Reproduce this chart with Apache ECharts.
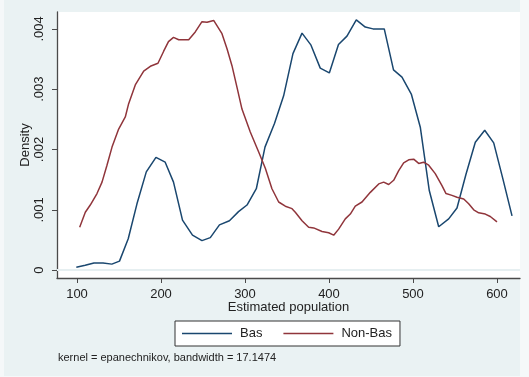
<!DOCTYPE html>
<html><head><meta charset="utf-8">
<script src="https://cdn.jsdelivr.net/npm/echarts@6/dist/echarts.min.js"></script>
<style>html,body{margin:0;padding:0;background:#f5f8f9;} #c{width:529px;height:377px;}</style>
</head><body><div id="c"></div>
<script>
// Estimated population (x) and kernel density (y)
const basX = [99.2,109.8,120.2,131,141.5,150.6,161,171.4,182.5,194,205,214.9,225.6,237.5,248.8,258.7,269.6,281.5,292.3,302.4,313.5,323.8,335.1,346,357.1,367.9,378.6,389.6,400.4,411.3,421.4,432.5,443.2,452.4,465.8,476.8,486.9,498,508.7,519.4,530.6,542.5,552.4,563.1,574.2,585.4,596.1,607.1,617.9];
const basY = [0.00005,0.00008,0.00012,0.00012,0.00010,0.00015,0.00052,0.00110,0.00163,0.00187,0.00179,0.00146,0.00083,0.00058,0.00049,0.00054,0.00075,0.00082,0.00097,0.00108,0.00135,0.00204,0.00243,0.00289,0.00359,0.00393,0.00373,0.00335,0.00327,0.00374,0.00388,0.00415,0.00403,0.00400,0.00400,0.00332,0.00320,0.00292,0.00237,0.00132,0.00072,0.00085,0.00103,0.00159,0.00212,0.00232,0.00211,0.00151,0.00090];
const nonBasX = [103.2,109.9,115.8,123.8,129.8,135.7,141.7,149.6,157.5,161.5,169.4,179.4,187.3,196.4,203.2,208.9,214.9,221.1,233,240.8,248.8,254.8,262.7,272.6,278.6,284.5,290.5,296.4,306.3,316.3,324.2,332.1,340.1,348,356,359.9,367.9,375.8,381.8,391.7,399.6,405.6,411.5,419.4,425.4,431.3,439.3,449.2,459.2,465.1,471.1,477,483,488.9,494.9,500.8,506.8,512.7,518.7,526.5,534.5,539.3,546.4,552.4,560.4,566.3,572.3,578.2,586.1,592,600];
const nonBasY = [0.00071,0.00096,0.00108,0.00127,0.00146,0.00174,0.00204,0.00234,0.00254,0.00276,0.00307,0.00330,0.00338,0.00343,0.00363,0.00379,0.00386,0.00382,0.00382,0.00395,0.00412,0.00411,0.00414,0.00392,0.00367,0.00339,0.00303,0.00267,0.00229,0.00196,0.00169,0.00135,0.00113,0.00106,0.00102,0.00096,0.00082,0.00071,0.00070,0.00064,0.00062,0.00058,0.00068,0.00085,0.00093,0.00106,0.00113,0.00129,0.00143,0.00146,0.00142,0.00149,0.00165,0.00178,0.00183,0.00184,0.00177,0.00179,0.00174,0.00160,0.00140,0.00127,0.00124,0.00121,0.00118,0.00110,0.00100,0.00095,0.00093,0.00089,0.00080];
const xTicks = [100,200,300,400,500,600];
const yTicks = [0,0.001,0.002,0.003,0.004];
const seriesNames = ['Bas','Non-Bas'];
const noteText = 'kernel = epanechnikov, bandwidth = 17.1474';

const FONT = '"Liberation Sans", Arial, sans-serif';
const chart = echarts.init(document.getElementById('c'), null, {renderer:'canvas'});
const axisCol = '#4a4a4a';
const option = {
  animation: false,
  backgroundColor: '#eaf2f3',
  textStyle: {fontFamily: FONT},
  graphic: [
    {type:'rect', silent:true, shape:{x:0,y:0,width:4,height:377}, style:{fill:'#f5f8f9'}},
    {type:'rect', silent:true, shape:{x:520,y:0,width:9,height:377}, style:{fill:'#f5f8f9'}},
    {type:'rect', silent:true, shape:{x:0,y:376,width:529,height:1}, style:{fill:'#f5f8f9'}},
    {type:'text', silent:true, x:58, y:352, style:{text:noteText, font:'11px ' + FONT, fill:'#222'}}
  ],
  grid: {left:57, right:9, top:12, bottom:99, show:true, backgroundColor:'#ffffff', borderWidth:0, containLabel:false},
  legend: {
    data: seriesNames, left:175, top:321, orient:'horizontal',
    backgroundColor:'#ffffff', borderColor:'#333', borderWidth:1, borderRadius:0,
    padding:[5,8,5,7], icon:'rect', itemWidth:50, itemHeight:1.6, itemGap:21,
    textStyle:{fontSize:13, color:'#222', fontFamily:FONT, padding:[0,0,0,3], lineHeight:15}
  },
  xAxis: {
    type:'value', min:76.2, max:627.4,
    name:'Estimated population', nameLocation:'middle', nameGap:23, nameMoveOverlap:false,
    nameTextStyle:{fontSize:13, color:'#222', fontFamily:FONT},
    axisLine:{show:true, onZero:false, lineStyle:{color:axisCol, width:1.3}},
    axisTick:{show:true, length:5, customValues:xTicks, lineStyle:{color:axisCol, width:1}},
    axisLabel:{customValues:xTicks, margin:10, fontSize:13, color:'#222', fontFamily:FONT},
    splitLine:{show:false}
  },
  yAxis: {
    type:'value', min:-0.00013, max:0.00428,
    name:'Density', nameLocation:'middle', nameGap:25, nameRotate:90, nameMoveOverlap:false,
    nameTextStyle:{fontSize:13, color:'#222', fontFamily:FONT},
    axisLine:{show:true, onZero:false, lineStyle:{color:axisCol, width:1.3}},
    axisTick:{show:true, length:5, customValues:yTicks, lineStyle:{color:axisCol, width:1}},
    axisLabel:{customValues:yTicks, rotate:90, margin:11, fontSize:13, color:'#222', fontFamily:FONT,
      formatter: v => v === 0 ? '0' : String(+v.toFixed(3)).replace(/^0/, '')},
    splitLine:{show:false}
  },
  series: [
    {type:'line', name:'grid', data:[], silent:true, z:1,
     markLine:{silent:true, symbol:'none', animation:false, label:{show:false},
       lineStyle:{color:'#e6eff0', width:1.5, type:'solid'},
       emphasis:{disabled:true},
       data: yTicks.map(v => ({yAxis:v}))}},
    {name:seriesNames[0], type:'line', z:3, symbol:'none', data: basX.map((x,i)=>[x, basY[i]]),
     lineStyle:{color:'#1a476f', width:1.5}, itemStyle:{color:'#1a476f'}},
    {name:seriesNames[1], type:'line', z:3, symbol:'none', data: nonBasX.map((x,i)=>[x, nonBasY[i]]),
     lineStyle:{color:'#90353b', width:1.5}, itemStyle:{color:'#90353b'}}
  ]
};
chart.setOption(option);
</script></body></html>
